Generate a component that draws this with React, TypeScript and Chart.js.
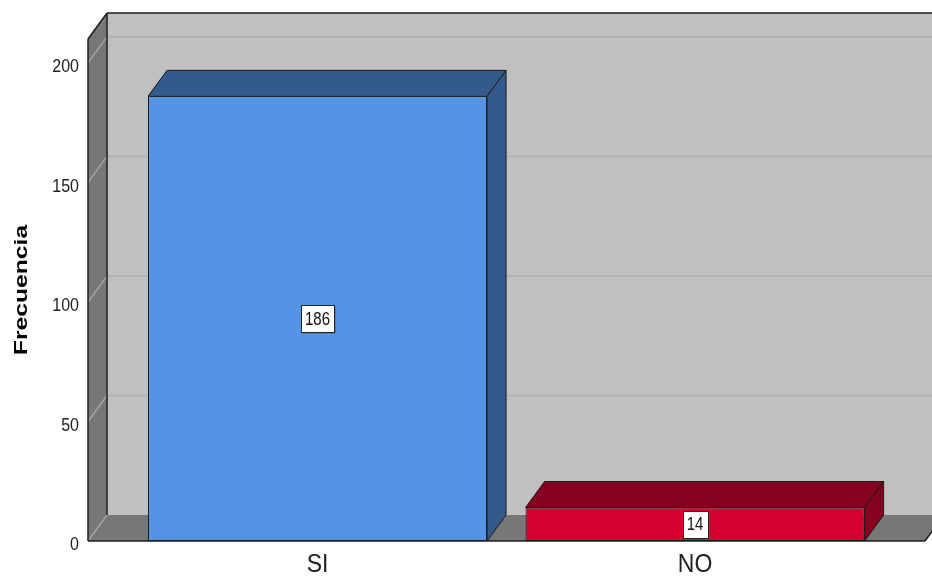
import React, { useEffect, useRef } from 'react';
import { Chart, registerables } from 'chart.js';

Chart.register(...registerables);

// ---- data ----
const categories = ['SI', 'NO'];
const frecuencia = [186, 14];
const yTickValues = [0, 50, 100, 150, 200];
const yMax = 210;
const yTitle = 'Frecuencia';

// ---- styles ----
const frontColors = ['#5594e4', '#d5002f'];
const shadeColors = ['#335a8b', '#86001f'];
const DX = 19;
const DY = -26;
const FONT = '"Liberation Sans", Arial, sans-serif';

function stretchedText(ctx: CanvasRenderingContext2D, text: string, x: number, y: number, sx: number, sy: number) {
  ctx.save();
  ctx.translate(x, y);
  ctx.scale(sx, sy);
  ctx.fillText(text, 0, 0);
  ctx.restore();
}

function poly(ctx: CanvasRenderingContext2D, pts: number[][], fill?: string, stroke?: string, lw = 1) {
  ctx.beginPath();
  ctx.moveTo(pts[0][0], pts[0][1]);
  for (let i = 1; i < pts.length; i++) ctx.lineTo(pts[i][0], pts[i][1]);
  ctx.closePath();
  if (fill) { ctx.fillStyle = fill; ctx.fill(); }
  if (stroke) { ctx.strokeStyle = stroke; ctx.lineWidth = lw; ctx.stroke(); }
}

function line(ctx: CanvasRenderingContext2D, x1: number, y1: number, x2: number, y2: number, color: string, lw: number) {
  ctx.beginPath();
  ctx.moveTo(x1, y1);
  ctx.lineTo(x2, y2);
  ctx.strokeStyle = color;
  ctx.lineWidth = lw;
  ctx.stroke();
}

const threeD = {
  id: 'threeD',
  beforeDatasetsDraw(chart: any) {
    const { ctx, chartArea: a, scales } = chart;
    const y = scales.y;
    const L = a.left, R = a.right, T = a.top, B = a.bottom;
    const W = chart.width + 40;
    ctx.save();
    // back wall
    ctx.fillStyle = '#c0c0c0';
    ctx.fillRect(L + DX, T + DY, W, B - T);
    // back wall gridlines
    for (const v of yTickValues) {
      if (v === 0) continue;
      const py = y.getPixelForValue(v) + DY;
      line(ctx, L + DX, py, W, py, '#b1b1b1', 2);
    }
    // side wall
    poly(ctx, [[L, T], [L + DX, T + DY], [L + DX, B + DY], [L, B]], '#777777');
    // floor
    poly(ctx, [[L, B], [L + DX, B + DY], [R + DX, B + DY], [R, B]], '#777777');
    // side wall gridlines
    for (const v of yTickValues) {
      const py = y.getPixelForValue(v);
      line(ctx, L, py, L + DX, py + DY, '#a3a3a3', 1.5);
    }
    // edges
    const k = '#1e1e1e';
    line(ctx, L, T, L, B, k, 1.5);
    line(ctx, L, T, L + DX, T + DY, k, 1.5);
    line(ctx, L + DX, T + DY, W, T + DY, k, 1.5);
    line(ctx, L + DX, T + DY, L + DX, B + DY, k, 1.5);
    line(ctx, R, B, R + DX, B + DY, k, 1.5);
    ctx.restore();
  },
  afterDatasetsDraw(chart: any) {
    const { ctx, chartArea: a } = chart;
    const meta = chart.getDatasetMeta(0);
    ctx.save();
    const k = '#1a1a1a';
    meta.data.forEach((bar: any, i: number) => {
      const { x: cx, y: top, base, width } = bar.getProps(['x', 'y', 'base', 'width'], true);
      const l = cx - width / 2;
      const r = cx + width / 2;
      poly(ctx, [[l, top], [l + DX, top + DY], [r + DX, top + DY], [r, top]], shadeColors[i], k, 1);
      poly(ctx, [[r, top], [r + DX, top + DY], [r + DX, base + DY], [r, base]], shadeColors[i], k, 1);
    });
    // front floor edge
    line(ctx, a.left, a.bottom, a.right, a.bottom, '#1e1e1e', 1.5);
    // value labels
    ctx.font = `15px ${FONT}`;
    ctx.textAlign = 'center';
    ctx.textBaseline = 'middle';
    meta.data.forEach((bar: any, i: number) => {
      const { x: cx, y: top, base } = bar.getProps(['x', 'y', 'base'], true);
      const cy = (top + base) / 2;
      const text = String(frecuencia[i]);
      const tw = ctx.measureText(text).width;
      const bw = Math.round(tw + 8);
      const bh = 27;
      const bx = Math.round(cx - bw / 2) + 0.5;
      const by = Math.round(cy - bh / 2) + 0.5;
      ctx.fillStyle = '#5a5a5a';
      ctx.fillRect(bx + 1, by + 1, bw, bh);
      ctx.fillStyle = '#ffffff';
      ctx.fillRect(bx, by, bw, bh);
      ctx.strokeStyle = '#222222';
      ctx.lineWidth = 1;
      ctx.strokeRect(bx, by, bw, bh);
      ctx.fillStyle = '#111111';
      stretchedText(ctx, text, cx, cy + 1, 1, 1.25);
    });
    ctx.restore();
  },
  afterDraw(chart: any) {
    const { ctx, scales } = chart;
    const x = scales.x;
    const y = scales.y;
    ctx.save();
    // y tick labels
    ctx.fillStyle = '#222222';
    ctx.font = `16px ${FONT}`;
    ctx.textAlign = 'right';
    ctx.textBaseline = 'middle';
    for (const t of y.ticks) {
      const py = y.getPixelForValue(t.value) + 4;
      stretchedText(ctx, String(t.value), 79, py, 1, 1.2);
    }
    // x tick labels
    ctx.font = `23px ${FONT}`;
    ctx.textAlign = 'center';
    categories.forEach((c, i) => {
      stretchedText(ctx, c, x.getPixelForValue(i), 565, 1, 1.1);
    });
    // y title
    ctx.fillStyle = '#000000';
    ctx.font = `bold 19px ${FONT}`;
    ctx.textAlign = 'center';
    ctx.textBaseline = 'alphabetic';
    ctx.save();
    ctx.translate(27, 290);
    ctx.rotate(-Math.PI / 2);
    ctx.scale(1.3, 1);
    ctx.fillText(yTitle, 0, 0);
    ctx.restore();
    ctx.restore();
  },
};

export default function App() {
  const ref = useRef<HTMLCanvasElement | null>(null);
  useEffect(() => {
    if (!ref.current) return;
    const chart = new Chart(ref.current, {
      type: 'bar',
      data: {
        labels: categories,
        datasets: [
          {
            data: frecuencia.map((v, i) => ({ x: i, y: v })) as any,
            backgroundColor: frontColors,
            borderColor: '#1a1a1a',
            borderWidth: 1,
            borderSkipped: false,
            barPercentage: 0.898,
            categoryPercentage: 1,
          },
        ],
      },
      options: {
        animation: false,
        responsive: false,
        layout: { padding: { left: 88, right: 7, top: 39, bottom: 35 } },
        plugins: { legend: { display: false }, tooltip: { enabled: false } },
        scales: {
          x: {
            type: 'linear',
            min: -0.608,
            max: 1.609,
            offset: false,
            display: false,
            afterBuildTicks: (s: any) => {
              s.ticks = categories.map((_, i) => ({ value: i }));
            },
          },
          y: {
            type: 'linear',
            min: 0,
            max: yMax,
            display: false,
            afterBuildTicks: (s: any) => {
              s.ticks = yTickValues.map((v) => ({ value: v }));
            },
          },
        },
      } as any,
      plugins: [threeD],
    });
    return () => chart.destroy();
  }, []);
  return (
    <div style={{ position: 'absolute', left: 0, top: 0, width: 932, height: 576 }}>
      <canvas ref={ref} width={932} height={576} style={{ display: 'block' }} />
    </div>
  );
}
